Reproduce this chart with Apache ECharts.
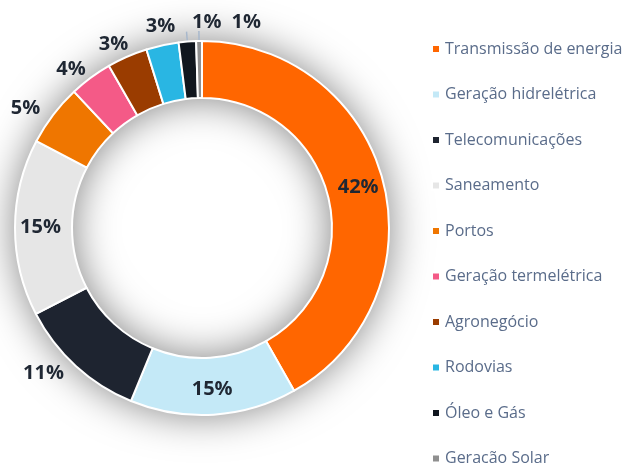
<!DOCTYPE html>
<html>
<head>
<meta charset="utf-8">
<script src="https://cdn.jsdelivr.net/npm/echarts@6/dist/echarts.min.js"></script>
<style>
html, body { margin: 0; padding: 0; background: #fff; }
#chart { width: 629px; height: 463px; }
</style>
</head>
<body>
<div id="chart"></div>
<script>
'use strict';
var categories = ['Transmissão de energia', 'Geração hidrelétrica', 'Telecomunicações', 'Saneamento', 'Portos',
	'Geração termelétrica', 'Agronegócio', 'Rodovias', 'Óleo e Gás', 'Geração Solar'];
var values = [41.8, 14.4, 11.2, 15.3, 5.3, 3.7, 3.5, 2.8, 1.5, 0.5];
var pctLabels = ['42%', '15%', '11%', '15%', '5%', '4%', '3%', '3%', '1%', '1%'];

var colors = ['#ff6600', '#c4e9f7', '#1e2430', '#e6e6e6', '#ef7600',
	'#f45a87', '#9a3c00', '#29b6e3', '#10161e', '#8f8f8f'];
// labels drawn inside the ring, the rest go outside
var insideLabels = ['Transmissão de energia', 'Geração hidrelétrica', 'Saneamento'];
var withLine = ['Óleo e Gás', 'Geração Solar'];
// small nudges for the crowded labels at the top
var labelShift = {5: [6, 0], 6: [10, -3], 7: [20, -9], 8: [40, -9], 9: [67, -9]};

var chart = echarts.init(document.getElementById('chart'));

var data = categories.map(function (name, i) {
	var inside = insideLabels.indexOf(name) >= 0;
	return {
		name: name,
		value: values[i],
		itemStyle: {color: colors[i]},
		label: {position: inside ? 'inside' : 'outside'},
		labelLine: {show: withLine.indexOf(name) >= 0}
	};
});

var option = {
	legend: {
		orient: 'vertical',
		left: 426,
		top: 35,
		height: 440,
		icon: 'rect',
		itemWidth: 8,
		itemHeight: 8,
		itemGap: 27.5,
		data: categories,
		textStyle: {
			fontFamily: 'Open Sans',
			fontSize: 16,
			color: '#5a6c8a',
			lineHeight: 18
		}
	},
	series: [
		{
			// shadow ring behind the slices
			type: 'pie',
			silent: true,
			radius: [130, 187],
			center: [202, 228],
			label: {show: false},
			labelLine: {show: false},
			itemStyle: {
				color: '#fff',
				shadowBlur: 40,
				shadowColor: 'rgba(0,0,0,0.5)'
			},
			data: [{value: 1, name: ''}],
			z: 1
		},
		{
			type: 'pie',
			radius: [130, 187],
			center: [202, 228],
			startAngle: 90,
			clockwise: true,
			avoidLabelOverlap: false,
			itemStyle: {
				borderColor: '#fff',
				borderWidth: 2
			},
			label: {
				formatter: function (p) { return pctLabels[p.dataIndex]; },
				fontFamily: 'Open Sans',
				fontWeight: 'bold',
				fontSize: 20,
				color: '#1f2733'
			},
			labelLine: {
				length: 10,
				length2: 0,
				lineStyle: {color: '#a8b8cc', width: 1.5}
			},
			labelLayout: function (p) {
				var s = labelShift[p.dataIndex];
				return s ? {dx: s[0], dy: s[1]} : {};
			},
			emphasis: {disabled: true},
			data: data,
			z: 2
		}
	]
};
chart.setOption(option);
</script>
</body>
</html>
